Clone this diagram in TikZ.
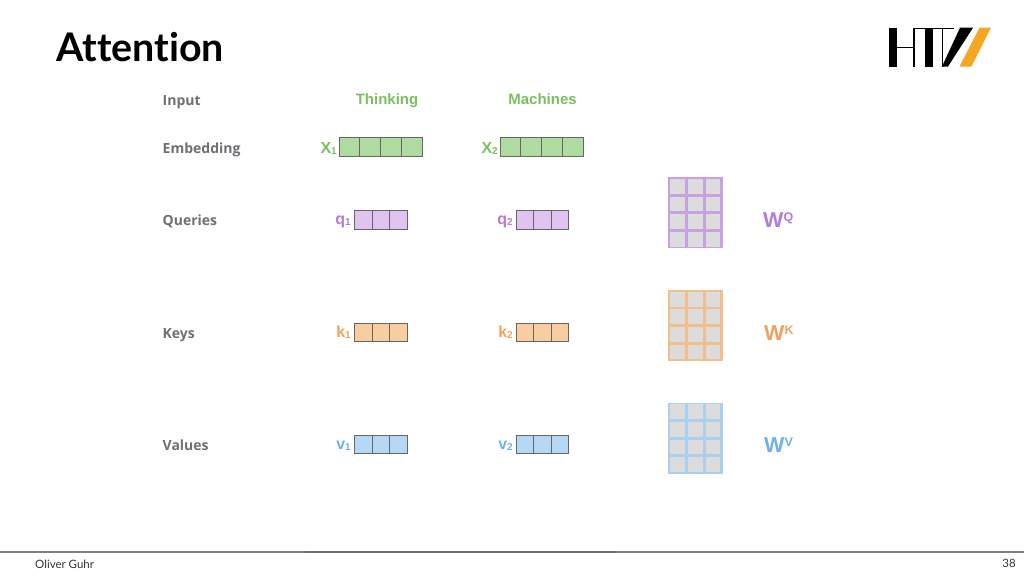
\documentclass[tikz,border=0pt]{standalone}
\usepackage{fontspec}
\setmainfont{Lato}
\newfontfamily\titlefont[Ligatures=NoCommon]{Lato}
\newfontfamily\labelfont{Open Sans}
\newfontfamily\wordfont{Liberation Sans}
\definecolor{gtxt}{HTML}{7CBF62}
\definecolor{ptxt}{HTML}{B57BD6}
\definecolor{otxt}{HTML}{EFA35C}
\definecolor{btxt}{HTML}{6DB3E6}
\definecolor{gfill}{HTML}{ADDBA0}
\definecolor{pfill}{HTML}{E0C3F0}
\definecolor{ofill}{HTML}{F8CDA0}
\definecolor{bfill}{HTML}{B5D8F5}
\definecolor{lab}{HTML}{6E7074}
\definecolor{cellgrey}{HTML}{DCDCDC}
\definecolor{mp}{HTML}{C9A0E4}
\definecolor{mo}{HTML}{F3BE8A}
\definecolor{mb}{HTML}{A9D0F0}
\definecolor{logoor}{HTML}{F5A623}
\tikzset{
  rowlabel/.style={anchor=base west,inner sep=0pt,text=lab,font=\labelfont\bfseries\fontsize{14}{16}\selectfont},
  wordlabel/.style={anchor=base,inner sep=0pt,font=\wordfont\bfseries\fontsize{15}{17}\selectfont},
  veclabel/.style={anchor=base east,inner sep=0pt,font=\wordfont\bfseries\fontsize{16}{17}\selectfont},
  veccell/.style={draw=black!60,line width=1pt,minimum height=18.5pt,inner sep=0pt,outer sep=0pt,anchor=west},
  matback/.style={inner sep=0pt,outer sep=0pt,minimum width=54.4pt,minimum height=71pt,anchor=north},
  matcell/.style={fill=cellgrey,minimum width=14.6pt,minimum height=14.6pt,inner sep=0pt,outer sep=0pt},
  wlabel/.style={anchor=base west,inner sep=0pt,font=\wordfont\bfseries\fontsize{21.5}{23}\selectfont},
  suplabel/.style={inner sep=0pt,anchor=base west,font=\wordfont\bfseries\fontsize{12.5}{15}\selectfont},
  footlabel/.style={inner sep=0pt,text=black!80,font=\fontsize{11.5}{13}\selectfont},
}
\newcommand{\vecbar}[6]{% name, x, y, n, cell width, fill
  \foreach \i in {1,...,#4}
    \node[veccell,fill=#6,minimum width=#5pt] (#1-\i) at ({#2+(\i-1)*#5},#3) {};
}
\newcommand{\matgrid}[4]{% name, x centre, y top, colour
  \node[matback,fill=#4] (#1) at (#2,#3) {};
  \foreach \r in {1,...,4}\foreach \c in {1,...,3}
    \node[matcell] (#1-\r-\c) at ({#2+(\c-2)*17.7},{#3+9.2+(\r-1)*17.55}) {};
}
\newcommand{\subs}[1]{\raisebox{-1pt}{\fontsize{10}{10}\selectfont #1}}
\begin{document}
\begin{tikzpicture}[x=1pt,y=-1pt]
\useasboundingbox[fill=white] (0,0) rectangle (1024,576);
% title
\node[anchor=base west,inner sep=0pt,font=\titlefont\bfseries\fontsize{39.4}{41}\selectfont] (title) at (56,61) {Attention};
% logo
\fill[black] (889,27.7) rectangle (896.5,66.5);
\fill[black] (896.5,46.6) rectangle (913.5,48);
\fill[black] (913,27.7) rectangle (914.6,66.5);
\fill[black] (913,27.7) rectangle (954,29.1);
\fill[black] (925,27.7) rectangle (933,66.5);
\fill[black] (941.8,29) rectangle (943.2,66.5);
\fill[black] (942,66.5) -- (948,66.5) -- (973,27.7) -- (960,27.7) -- cycle;
\fill[logoor] (959.5,66.5) -- (971.5,66.5) -- (991,27.7) -- (979.5,27.7) -- cycle;
% row labels
\node[rowlabel] (rinput) at (162.5,105) {Input};
\node[rowlabel] (rembed) at (162.5,153.5) {Embedding};
\node[rowlabel] (rquery) at (162.5,225) {Queries};
\node[rowlabel] (rkeys) at (162.5,338) {Keys};
\node[rowlabel] (rvals) at (162.5,450) {Values};
% words
\node[wordlabel,text=gtxt] (w1) at (387,104.5) {Thinking};
\node[wordlabel,text=gtxt] (w2) at (542.5,104.5) {Machines};
% embeddings
\vecbar{x1}{339}{147}{4}{20.9}{gfill}
\vecbar{x2}{500}{147}{4}{20.9}{gfill}
\node[veclabel,text=gtxt] (lx1) at (337,153) {X\subs{1}};
\node[veclabel,text=gtxt] (lx2) at (498,153) {X\subs{2}};
% queries
\vecbar{q1}{354.5}{220}{3}{17.6}{pfill}
\vecbar{q2}{516}{220}{3}{17.6}{pfill}
\node[veclabel,text=ptxt] (lq1) at (351,224.5) {q\subs{1}};
\node[veclabel,text=ptxt] (lq2) at (513,224.5) {q\subs{2}};
% keys
\vecbar{k1}{354.5}{332.5}{3}{17.6}{ofill}
\vecbar{k2}{516}{332.5}{3}{17.6}{ofill}
\node[veclabel,text=otxt] (lk1) at (351,337) {k\subs{1}};
\node[veclabel,text=otxt] (lk2) at (513,337) {k\subs{2}};
% values
\vecbar{v1}{354.5}{444.5}{3}{17.6}{bfill}
\vecbar{v2}{516}{444.5}{3}{17.6}{bfill}
\node[veclabel,text=btxt] (lv1) at (351,449.5) {v\subs{1}};
\node[veclabel,text=btxt] (lv2) at (513,449.5) {v\subs{2}};
% matrices
\matgrid{mq}{695.3}{177.4}{mp}
\matgrid{mk}{695.3}{290}{mo}
\matgrid{mv}{695.3}{402.5}{mb}
% W labels
\node[wlabel,text=ptxt] (wq) at (763,227.5) {W};
\node[suplabel,text=ptxt] (wqs) at (783.5,221.7) {Q};
\node[wlabel,text=otxt] (wk) at (764,340.5) {W};
\node[suplabel,text=otxt] (wks) at (784.5,334.5) {K};
\node[wlabel,text=btxt] (wv) at (764,452.5) {W};
\node[suplabel,text=btxt] (wvs) at (784.5,446.5) {V};
% footer
\fill[black!50] (0,551) rectangle (1024,552.8);
\fill[black!56] (305,551) rectangle (617,552.8);
\node[anchor=base west,footlabel] (author) at (35,568) {Oliver Guhr};
\node[anchor=base east,footlabel] (page) at (1016,567.5) {38};
\end{tikzpicture}
\end{document}
